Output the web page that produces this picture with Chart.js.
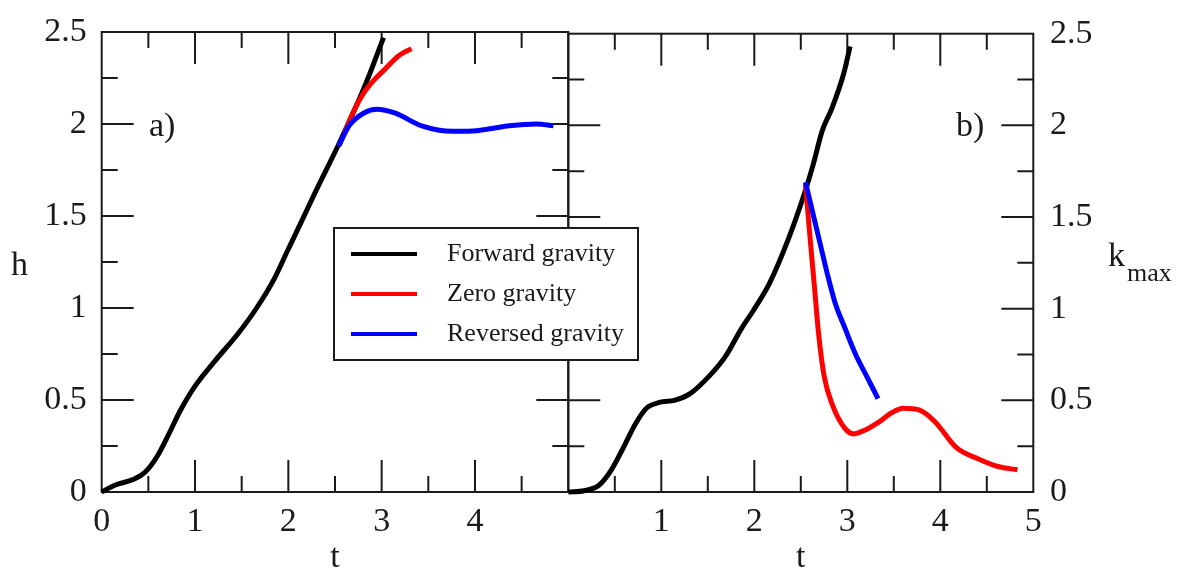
<!DOCTYPE html>
<html>
<head>
<meta charset="utf-8">
<script src="https://cdn.jsdelivr.net/npm/chart.js@4.4.1/dist/chart.umd.min.js"></script>
<style>
  html, body { margin: 0; padding: 0; background: #fff; overflow: hidden; }
  #wrap { position: relative; width: 1179px; height: 571px; }
  #wrap canvas { position: absolute; left: 0; top: 0; }
</style>
</head>
<body>
<div id="wrap">
  <canvas id="panelA" width="1179" height="571"></canvas>
  <canvas id="panelB" width="1179" height="571"></canvas>
</div>
<script>
// panel a) : h(t)
const hForwardT = [0, 0.14, 0.35, 0.47, 0.59, 0.72, 0.84, 1.0, 1.21, 1.46, 1.66, 1.85, 1.99, 2.15, 2.28, 2.54, 2.73, 2.87, 3.02];
const hForward  = [0, 0.037, 0.07, 0.11, 0.19, 0.316, 0.44, 0.575, 0.71, 0.86, 1.0, 1.16, 1.31, 1.48, 1.62, 1.89, 2.10, 2.27, 2.47];
const hZeroT = [2.60, 2.70, 2.81, 2.92, 3.02, 3.18, 3.32];
const hZero  = [1.95, 2.07, 2.17, 2.24, 2.29, 2.37, 2.41];
const hReversedT = [2.54, 2.65, 2.81, 2.95, 3.14, 3.43, 3.76, 4.04, 4.37, 4.66, 4.84];
const hReversed  = [1.88, 1.99, 2.06, 2.08, 2.06, 1.99, 1.96, 1.965, 1.99, 2.0, 1.99];

// panel b) : k_max(t)
const kForwardT = [0, 0.17, 0.33, 0.46, 0.59, 0.72, 0.84, 0.99, 1.14, 1.31, 1.52, 1.69, 1.86, 1.99, 2.16, 2.37, 2.54, 2.63, 2.73, 2.84, 2.96, 3.03];
const kForward  = [0, 0.007, 0.037, 0.118, 0.24, 0.37, 0.457, 0.49, 0.50, 0.537, 0.635, 0.74, 0.89, 0.99, 1.135, 1.385, 1.63, 1.78, 1.97, 2.10, 2.28, 2.43];
const kZeroT = [2.55, 2.60, 2.65, 2.69, 2.75, 2.84, 2.97, 3.07, 3.20, 3.35, 3.47, 3.60, 3.77, 3.94, 4.17, 4.41, 4.62, 4.83];
const kZero  = [1.68, 1.385, 1.10, 0.87, 0.635, 0.475, 0.35, 0.317, 0.34, 0.385, 0.43, 0.457, 0.448, 0.385, 0.243, 0.18, 0.139, 0.121];
const kReversedT = [2.55, 2.63, 2.71, 2.79, 2.87, 2.97, 3.09, 3.22, 3.33];
const kReversed  = [1.69, 1.52, 1.35, 1.18, 1.03, 0.90, 0.75, 0.62, 0.51];

const seriesNames = ['Forward gravity', 'Zero gravity', 'Reversed gravity'];
const seriesColors = ['#000000', '#ff0000', '#0000ff'];

const SERIF = "'Liberation Serif', 'Times New Roman', serif";
const INK = '#1a1a1a';

function pts(ts, vs) {
  return ts.map((t, i) => ({ x: t, y: vs[i] }));
}

function makeDatasets(list) {
  return list.map((d, i) => ({
    label: seriesNames[i],
    data: pts(d[0], d[1]),
    borderColor: seriesColors[i],
    backgroundColor: seriesColors[i],
    borderWidth: 5,
    pointRadius: 0,
    cubicInterpolationMode: 'monotone',
    clip: false,
    order: 2 - i
  }));
}

// frame with inward ticks on all four sides
const frameTicks = {
  id: 'frameTicks',
  beforeDatasetsDraw(chart) {
    const { ctx, chartArea: a, scales } = chart;
    const x = scales.x;
    const y = scales.y;
    ctx.save();
    ctx.strokeStyle = INK;
    ctx.lineWidth = 2;
    ctx.beginPath();
    for (let i = 1; i < 10; i++) {
      const t = i / 2;
      const px = x.getPixelForValue(t);
      const len = i % 2 === 0 ? 32 : 16;
      ctx.moveTo(px, a.bottom); ctx.lineTo(px, a.bottom - len);
      ctx.moveTo(px, a.top); ctx.lineTo(px, a.top + len);
    }
    for (let i = 1; i < 10; i++) {
      const v = i / 4;
      const py = y.getPixelForValue(v);
      const len = i % 2 === 0 ? 32 : 16;
      ctx.moveTo(a.left, py); ctx.lineTo(a.left + len, py);
      ctx.moveTo(a.right, py); ctx.lineTo(a.right - len, py);
    }
    ctx.stroke();
    ctx.strokeRect(a.left, a.top, a.right - a.left, a.bottom - a.top);
    ctx.restore();
  }
};

// panel letters and upright y titles
const panelText = {
  id: 'panelText',
  afterDraw(chart, args, opts) {
    const { ctx } = chart;
    ctx.save();
    ctx.fillStyle = INK;
    ctx.textBaseline = 'alphabetic';
    ctx.textAlign = 'left';
    ctx.font = '34px ' + SERIF;
    ctx.fillText(opts.letter, opts.letterX, opts.letterY);
    ctx.fillText(opts.title, opts.titleX, opts.titleY);
    if (opts.sub) {
      const w = ctx.measureText(opts.title).width;
      ctx.font = '26px ' + SERIF;
      ctx.fillText(opts.sub, opts.titleX + w + 2, opts.titleY + 15);
    }
    ctx.restore();
  }
};

// legend box drawn on top of both panels
const boxLegend = {
  id: 'boxLegend',
  afterDraw(chart, args, opts) {
    if (!opts.show) return;
    const { ctx } = chart;
    ctx.save();
    ctx.fillStyle = '#fff';
    ctx.fillRect(334, 228, 304, 132);
    ctx.strokeStyle = INK;
    ctx.lineWidth = 2;
    ctx.strokeRect(334, 228, 304, 132);
    ctx.font = '26px ' + SERIF;
    ctx.textBaseline = 'middle';
    ctx.textAlign = 'left';
    chart.data.datasets.forEach((ds, i) => {
      const yy = 254 + i * 40;
      ctx.strokeStyle = ds.borderColor;
      ctx.lineWidth = 4;
      ctx.beginPath();
      ctx.moveTo(351, yy);
      ctx.lineTo(417, yy);
      ctx.stroke();
      ctx.fillStyle = INK;
      ctx.fillText(ds.label, 447, yy);
    });
    ctx.restore();
  }
};

function axisX(hide) {
  return {
    type: 'linear',
    min: 0,
    max: 5,
    ticks: {
      stepSize: 1,
      color: INK,
      padding: 13,
      font: { family: SERIF, size: 34, lineHeight: 1 },
      callback: v => (v === hide ? '' : v)
    },
    grid: { display: false, drawTicks: false },
    border: { display: false },
    title: {
      display: true,
      text: 't',
      color: INK,
      font: { family: SERIF, size: 34, lineHeight: 1 },
      padding: { top: 0, bottom: -4 }
    },
    afterFit: s => { s.height = 79; }
  };
}

function axisY(pos, width, pad) {
  return {
    type: 'linear',
    position: pos,
    min: 0,
    max: 2.5,
    ticks: {
      stepSize: 0.5,
      color: INK,
      padding: pad,
      font: { family: SERIF, size: 34, lineHeight: 1 },
      callback: v => v
    },
    grid: { display: false, drawTicks: false },
    border: { display: false },
    afterFit: s => { s.width = width; }
  };
}

function baseOptions(padding, yAxis, xAxis, textOpts, legendOn) {
  return {
    responsive: false,
    animation: false,
    layout: { padding: padding },
    scales: { x: xAxis, y: yAxis },
    plugins: {
      legend: { display: false },
      tooltip: { enabled: false },
      panelText: textOpts,
      boxLegend: { show: legendOn }
    }
  };
}

const chartA = new Chart(document.getElementById('panelA'), {
  type: 'line',
  data: { datasets: makeDatasets([[hForwardT, hForward], [hZeroT, hZero], [hReversedT, hReversed]]) },
  options: baseOptions(
    { left: 0, top: 25, right: 1179 - 568.3, bottom: 0 },
    axisY('left', 101.7, 15),
    axisX(5),
    { letter: 'a)', letterX: 149, letterY: 136, title: 'h', titleX: 11, titleY: 275 },
    false
  ),
  plugins: [frameTicks, panelText, boxLegend]
});

const chartB = new Chart(document.getElementById('panelB'), {
  type: 'line',
  data: { datasets: makeDatasets([[kForwardT, kForward], [kZeroT, kZero], [kReversedT, kReversed]]) },
  options: baseOptions(
    { left: 568.3, top: 25, right: 0, bottom: 0 },
    axisY('right', 1179 - 1033.3, 16.7),
    axisX(0),
    { letter: 'b)', letterX: 956, letterY: 136, title: 'k', titleX: 1108, titleY: 266, sub: 'max' },
    true
  ),
  plugins: [frameTicks, panelText, boxLegend]
});
</script>
</body>
</html>
